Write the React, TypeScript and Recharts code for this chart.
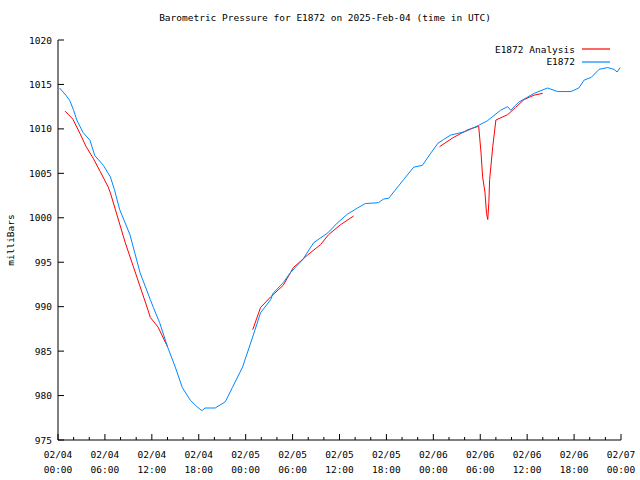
import { LineChart, Line, XAxis, YAxis } from "recharts";

// E1872 station readings (hours since 02/04 00:00 UTC, millibars)
const stationHours = [
  0.2, 1.0, 1.5, 2.0, 2.4, 3.2, 4.1, 4.7, 5.8, 6.7, 7.2, 7.9, 9.2, 10.5, 11.8, 12.2, 13.0, 14.0,
  15.0, 15.9, 16.9, 17.7, 18.4, 18.8, 20.1, 21.4, 22.3, 23.6, 24.9, 25.9, 27.2, 27.5, 28.8, 29.7,
  31.3, 32.7, 34.5, 35.7, 37.0, 38.3, 39.3, 41.0, 41.6, 42.3, 44.2, 45.5, 46.6, 47.7, 48.6, 49.3,
  50.2, 52.1, 53.8, 54.9, 56.6, 57.5, 57.9, 58.9, 60.9, 62.6, 63.9, 65.6, 66.6, 67.3, 68.2, 69.2,
  70.3, 71.1, 71.5, 71.9,
];
const stationPressure = [
  1014.6, 1013.8, 1013.2, 1012.1, 1011.0, 1009.6, 1008.7, 1007.0, 1005.9, 1004.6, 1003.2, 1000.9,
  998.1, 993.8, 990.8, 989.9, 988.2, 985.5, 983.2, 980.9, 979.5, 978.8, 978.3, 978.6, 978.6, 979.3,
  980.9, 983.2, 986.6, 989.3, 990.8, 991.5, 992.7, 993.8, 995.3, 997.2, 998.3, 999.4, 1000.4,
  1001.1, 1001.6, 1001.7, 1002.1, 1002.2, 1004.3, 1005.7, 1005.9, 1007.3, 1008.4, 1008.8, 1009.3,
  1009.7, 1010.4, 1010.9, 1012.1, 1012.5, 1012.1, 1013.0, 1014.0, 1014.6, 1014.2, 1014.2, 1014.6,
  1015.5, 1015.8, 1016.7, 1016.9, 1016.7, 1016.4, 1016.9,
];

// E1872 Analysis (null = gap between segments)
const analysisHours = [
  0.9, 1.9, 2.8, 3.6, 4.5, 5.4, 6.4, 6.7, 8.6, 10.1, 11.4, 11.8, 12.8, 14.0,
  19.0,
  24.9, 25.9, 27.2, 28.8, 30.1, 31.9, 33.6, 34.6, 36.1, 37.8,
  43.0,
  48.8, 50.5, 52.4, 53.8, 54.1, 54.3, 54.6, 54.8, 54.96, 55.1, 55.2, 55.6, 56.0, 57.5, 58.5, 59.6,
  60.9, 62.0,
];
const analysisPressure = [
  1012.0, 1011.1, 1009.5, 1008.0, 1006.7, 1005.2, 1003.5, 1002.8, 997.2, 993.3, 989.9, 988.8, 987.7,
  985.5,
  null,
  987.4, 989.9, 991.1, 992.4, 994.4, 995.8, 997.0, 998.1, 999.2, 1000.2,
  null,
  1008.0, 1009.0, 1009.9, 1010.3, 1007.3, 1004.6, 1002.9, 1000.5, 999.8, 1001.7, 1004.3, 1008.0,
  1011.0, 1011.6, 1012.4, 1013.3, 1013.8, 1014.0,
];

const seriesNames = ["E1872 Analysis", "E1872"];
const seriesColors = ["#ff0000", "#0088ff"];

const xTicks = Array.from({ length: 37 }, (_, i) => i * 2); // minor every 2h, major every 6h
const yTicks = [975, 980, 985, 990, 995, 1000, 1005, 1010, 1015, 1020];

const stationData = stationHours.map((h, i) => ({ h, p: stationPressure[i] }));
const analysisData = analysisHours.map((h, i) => ({ h, p: analysisPressure[i] }));

const FONT = "'DejaVu Sans Mono', monospace";

const BottomTick = (props: any) => {
  const { x, y, payload } = props;
  const h = payload.value;
  const major = h % 6 === 0;
  const day = 4 + Math.floor(h / 24);
  const hh = String(h % 24).padStart(2, "0");
  return (
    <g>
      <line x1={x} x2={x} y1={y} y2={y - (major ? 6 : 3)} stroke="#000" />
      {major && (
        <text x={x} y={y + 18} textAnchor="middle" fontFamily={FONT} fontSize={9.5} fill="#000">
          <tspan x={x}>{`02/0${day}`}</tspan>
          <tspan x={x} dy={15}>{`${hh}:00`}</tspan>
        </text>
      )}
    </g>
  );
};

const TopTick = (props: any) => {
  const { x, y, payload } = props;
  const major = payload.value % 6 === 0;
  return <line x1={x} x2={x} y1={y} y2={y + (major ? 6 : 3)} stroke="#000" />;
};

const LeftTick = (props: any) => {
  const { x, y, payload } = props;
  return (
    <g>
      <line x1={x} x2={x + 6} y1={y} y2={y} stroke="#000" />
      <text x={x - 6} y={y + 3.5} textAnchor="end" fontFamily={FONT} fontSize={9.5} fill="#000">
        {payload.value}
      </text>
    </g>
  );
};

const RightTick = (props: any) => {
  const { x, y } = props;
  return <line x1={x} x2={x - 6} y1={y} y2={y} stroke="#000" />;
};

export default function App() {
  return (
    <div style={{ position: "absolute", left: 0, top: 0, width: 640, height: 480, background: "#fff" }}>
      <div
        style={{
          position: "absolute",
          top: 12,
          left: 0,
          width: 650,
          textAlign: "center",
          fontFamily: FONT,
          fontSize: 9.5,
        }}
      >
        Barometric Pressure for E1872 on 2025-Feb-04 (time in UTC)
      </div>
      <div
        style={{
          position: "absolute",
          left: 10,
          top: 240,
          transform: "translate(-50%, -50%) rotate(-90deg)",
          fontFamily: FONT,
          fontSize: 9.5,
          whiteSpace: "nowrap",
        }}
      >
        milliBars
      </div>
      <LineChart width={640} height={480} margin={{ top: 40, right: 19, left: 0, bottom: 0 }}>
        <XAxis
          xAxisId="b"
          dataKey="h"
          type="number"
          domain={[0, 72]}
          ticks={xTicks}
          interval={0}
          tick={<BottomTick />}
          tickLine={false}
          tickSize={0}
          tickMargin={0}
          height={40}
          axisLine={{ stroke: "#000" }}
        />
        <XAxis
          xAxisId="t"
          orientation="top"
          dataKey="h"
          type="number"
          domain={[0, 72]}
          ticks={xTicks}
          interval={0}
          tick={<TopTick />}
          tickLine={false}
          tickSize={0}
          tickMargin={0}
          height={0}
          axisLine={{ stroke: "#000" }}
        />
        <YAxis
          yAxisId="l"
          type="number"
          domain={[975, 1020]}
          ticks={yTicks}
          interval={0}
          tick={<LeftTick />}
          tickLine={false}
          tickSize={0}
          tickMargin={0}
          width={58}
          axisLine={{ stroke: "#000" }}
        />
        <YAxis
          yAxisId="r"
          orientation="right"
          type="number"
          domain={[975, 1020]}
          ticks={yTicks}
          interval={0}
          tick={<RightTick />}
          tickLine={false}
          tickSize={0}
          tickMargin={0}
          width={0}
          axisLine={{ stroke: "#000" }}
        />
        <Line
          xAxisId="b"
          yAxisId="l"
          data={analysisData}
          dataKey="p"
          name={seriesNames[0]}
          type="linear"
          stroke={seriesColors[0]}
          strokeWidth={1}
          dot={false}
          connectNulls={false}
          isAnimationActive={false}
        />
        <Line
          xAxisId="b"
          yAxisId="l"
          data={stationData}
          dataKey="p"
          name={seriesNames[1]}
          type="linear"
          stroke={seriesColors[1]}
          strokeWidth={1}
          dot={false}
          isAnimationActive={false}
        />
      </LineChart>
      <div style={{ position: "absolute", top: 43, right: 30, fontFamily: FONT, fontSize: 9.5 }}>
        {seriesNames.map((name, i) => (
          <div key={name} style={{ display: "flex", justifyContent: "flex-end", alignItems: "center", height: 12.5 }}>
            <span>{name}</span>
            <svg width={35} height={6} style={{ display: "block" }}>
              <line x1={7} x2={35} y1={3} y2={3} stroke={seriesColors[i]} strokeWidth={1.2} />
            </svg>
          </div>
        ))}
      </div>
    </div>
  );
}
